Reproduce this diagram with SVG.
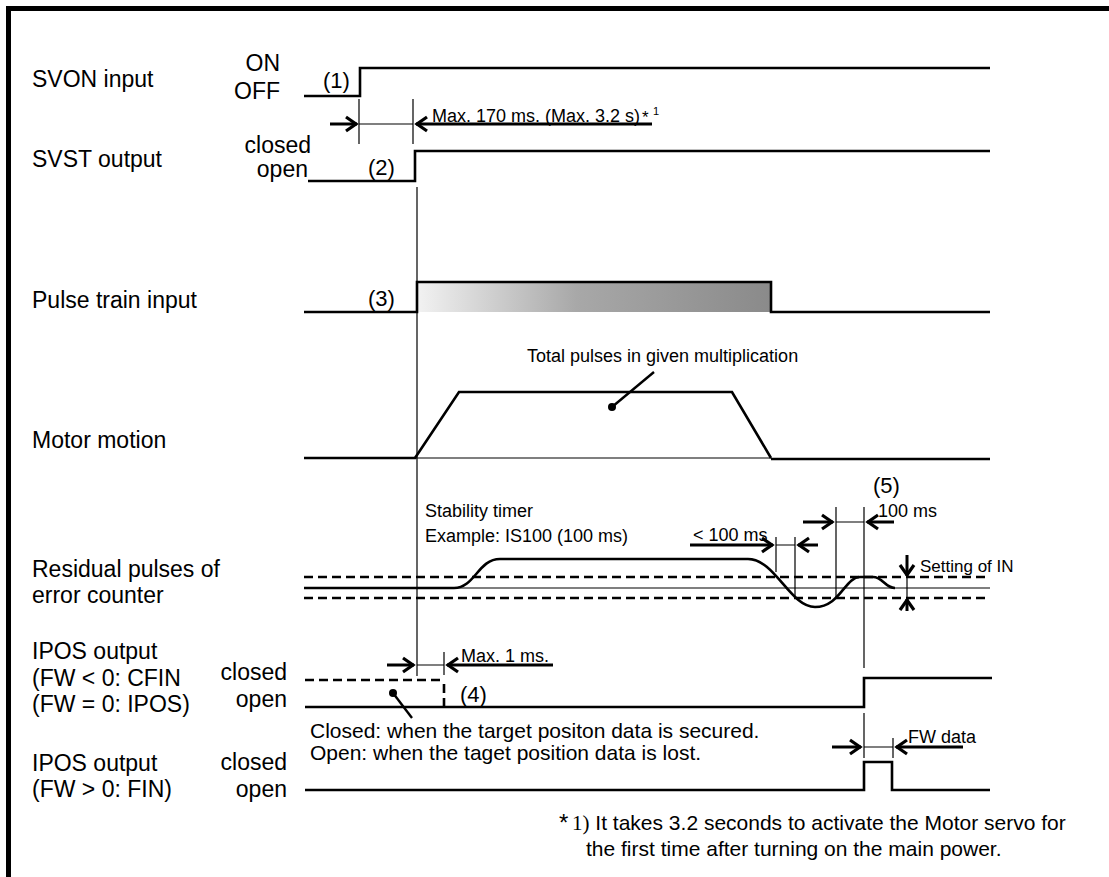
<svg xmlns="http://www.w3.org/2000/svg" width="1109" height="877" viewBox="0 0 1109 877">
<style>
text{font-family:"Liberation Sans",Arial,sans-serif;fill:#000}
.lbl{font-size:23px}
.st{font-size:23px;text-anchor:end}
.num{font-size:22px}
.sm{font-size:18px}
.note{font-size:21px}
.sig{fill:none;stroke:#000;stroke-width:2.6}
.thin{fill:none;stroke:#000;stroke-width:1.2}
.dash{fill:none;stroke:#000;stroke-width:2.6;stroke-dasharray:9 5}
.arr{fill:none;stroke:#000;stroke-width:3;marker-end:url(#ah)}
.lead{fill:none;stroke:#000;stroke-width:2.4}
</style>
<defs>
<marker id="ah" markerUnits="userSpaceOnUse" markerWidth="20" markerHeight="20" viewBox="-14 -10 16 20" refX="0" refY="0" orient="auto">
<path d="M-11,-7 L-1,0 L-11,7" fill="none" stroke="#000" stroke-width="3.2"/>
</marker>
<linearGradient id="pg" x1="0" y1="0" x2="1" y2="0">
<stop offset="0" stop-color="#f2f2f2"/>
<stop offset="0.45" stop-color="#a8a8a8"/>
<stop offset="1" stop-color="#8a8a8a"/>
</linearGradient>
</defs>
<rect x="0" y="0" width="1109" height="877" fill="#fff"/>
<g id="frame">
<rect x="6" y="6" width="1103" height="5" fill="#000"/>
<rect x="6" y="6" width="5" height="871" fill="#000"/>
</g>

<g id="svon">
<text class="lbl" x="32" y="87">SVON input</text>
<text class="st" x="280" y="71">ON</text>
<text class="st" x="280" y="99">OFF</text>
<text class="num" x="323" y="88">(1)</text>
<path class="sig" d="M304,96 H360 V68 H990"/>
</g>

<g id="svst">
<text class="lbl" x="32" y="167">SVST output</text>
<text class="st" x="311" y="153">closed</text>
<text class="st" x="308" y="177">open</text>
<text class="num" x="368" y="175">(2)</text>
<path class="sig" d="M308,181 H415 V151 H990"/>
</g>

<g id="pulse">
<text class="lbl" x="32" y="308">Pulse train input</text>
<text class="num" x="368" y="306">(3)</text>
<rect x="417" y="282" width="354" height="30" fill="url(#pg)"/>
<path class="sig" d="M304,312 H417 V282 H771 V312 H990"/>
</g>

<g id="motor">
<text class="lbl" x="32" y="448">Motor motion</text>
<text class="sm" x="527" y="362">Total pulses in given multiplication</text>
<path class="sig" d="M304,458 H416"/>
<path class="thin" d="M416,458 H771" stroke="#444"/>
<path class="sig" d="M771,459 H990"/>
<path class="sig" d="M415,458 L459,392 H732 L771,458"/>
</g>

<g id="residual">
<text class="lbl" x="32" y="577">Residual pulses of</text>
<text class="lbl" x="32" y="603">error counter</text>
<text class="sm" x="425" y="517">Stability timer</text>
<text class="sm" x="425" y="542">Example: IS100 (100 ms)</text>
<path class="dash" d="M304,577 H990"/>
<path class="dash" d="M304,598 H990"/>
<path class="thin" d="M304,588 H990" stroke-width="1.6"/>
<path class="sig" d="M304,588 H454 C475,588 478,559 500,559 H748 C775,559 790,607 815,607 C840,607 845,577 860,577 H873 C883,577 885,588 895,588"/>
<text class="num" x="873" y="493">(5)</text>
<text class="sm" x="693" y="541">&lt; 100 ms</text>
<text class="sm" x="878" y="517">100 ms</text>
<text x="920" y="572" font-size="17">Setting of IN</text>
</g>

<g id="ipos1">
<text class="lbl" x="32" y="659">IPOS output</text>
<text class="lbl" x="32" y="686">(FW &lt; 0: CFIN</text>
<text class="lbl" x="32" y="712">(FW = 0: IPOS)</text>
<text class="st" x="287" y="680">closed</text>
<text class="st" x="287" y="707">open</text>
<path class="dash" d="M305,680 H444"/>
<path class="dash" d="M444,684 V707" stroke-dasharray="8 5"/>
<text class="num" x="460" y="702">(4)</text>
<path class="sig" d="M305,707 H864 V678 H992"/>
<text class="sm" x="461" y="662">Max. 1 ms.</text>
<text class="note" x="310" y="738">Closed: when the target positon data is secured.</text>
<text class="note" x="310" y="760">Open: when the taget position data is lost.</text>
</g>

<g id="ipos2">
<text class="lbl" x="32" y="771">IPOS output</text>
<text class="lbl" x="32" y="797">(FW &gt; 0: FIN)</text>
<text class="st" x="287" y="770">closed</text>
<text class="st" x="287" y="797">open</text>
<path class="sig" d="M305,790 H864 V762 H892 V790 H990"/>
<text class="sm" x="908" y="743">FW data</text>
</g>

<g id="footnote">
<text x="559" y="831" font-size="24">*</text>
<text class="note" x="572" y="830"><tspan font-family="'Liberation Serif','Times New Roman',serif">1)</tspan> It takes 3.2 seconds to activate the Motor servo for</text>
<text class="note" x="586" y="856">the first time after turning on the main power.</text>
</g>

<g id="connectors">
<!-- SVON to SVST delay -->
<path class="thin" d="M359,99 V144 M413,99 V144 M359,124 H413"/>
<path class="arr" d="M330,124 H357"/>
<path class="arr" d="M652,124 H416"/>
<text class="sm" x="432" y="122">Max. 170 ms. (Max. 3.2 s)</text>
<text x="642" y="123" font-size="17">*</text>
<text x="653" y="115" font-size="11">1</text>
<!-- long timing lines -->
<path class="thin" d="M417,187 V282 M417,312 V676"/>
<path class="thin" d="M864,507 V668 M864,713 V758"/>
<!-- Max 1 ms -->
<path class="thin" d="M444,652 V675 M417,665 H444"/>
<path class="arr" d="M387,665 H414"/>
<path class="arr" d="M553,665 H447"/>
<!-- < 100 ms -->
<path class="thin" d="M776,537 V572 M795,537 V598 M776,545 H795"/>
<path class="arr" d="M690,545 H773"/>
<path class="arr" d="M818,545 H798"/>
<!-- 100 ms -->
<path class="thin" d="M836,507 V599 M836,522 H864"/>
<path class="arr" d="M803,522 H833"/>
<path class="arr" d="M894,522 H867"/>
<!-- Setting of IN -->
<path class="thin" d="M907,577 V598"/>
<path class="arr" d="M907,555 V576"/>
<path class="arr" d="M907,611 V599"/>
<!-- FW data -->
<path class="thin" d="M893,738 V758 M864,747 H893"/>
<path class="arr" d="M832,747 H861"/>
<path class="arr" d="M963,747 H896"/>
<!-- leaders -->
<path class="lead" d="M612,407 L654,372"/>
<circle cx="612" cy="407" r="4"/>
<path class="lead" d="M393,693 L412,718"/>
<circle cx="393" cy="693" r="4"/>
</g>
</svg>
